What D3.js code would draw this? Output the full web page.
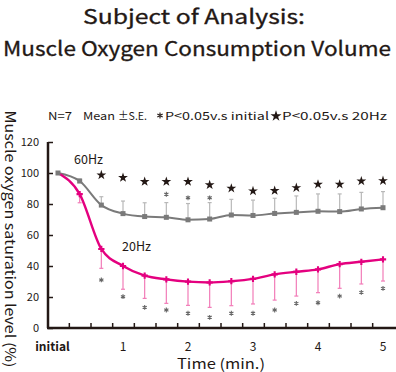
<!DOCTYPE html>
<html>
<head>
<meta charset="utf-8">
<script src="https://cdn.jsdelivr.net/npm/d3@7"></script>
<style>
  body { margin: 0; background: #fff; }
  svg { display: block; font-family: "Noto Sans CJK JP", "Noto Sans", sans-serif; }
</style>
</head>
<body>
<script>
// time points every 20 s, in minutes
const times = d3.range(16).map(i => i / 3);
const xTickLabels = ["initial", "1", "2", "3", "4", "5"];
const xTickValues = [0, 1, 2, 3, 4, 5];
const yTicks = [0, 20, 40, 60, 80, 100, 120];

// 60Hz: mean and upper S.E.
const hz60Mean = [100, 94.8, 79.3, 73.8, 71.9, 71.4, 69.8, 70.3, 72.9, 72.6, 73.9, 74.6, 75.3, 75.1, 76.8, 77.6];
const hz60Se   = [0, 1.4, 5.4, 8.1, 8.9, 9.5, 10.5, 10.6, 10.1, 9.9, 9.8, 10.6, 11.2, 11.4, 10.7, 10.4];
// 20Hz: mean and lower S.E.
const hz20Mean = [100, 86.4, 51.0, 40.0, 33.8, 31.4, 29.9, 29.4, 30.2, 31.7, 34.6, 36.3, 37.8, 41.2, 42.7, 44.3];
const hz20Se   = [0, 5.6, 12.5, 15.0, 14.7, 15.5, 15.3, 16.1, 15.8, 16.2, 16.6, 15.7, 15.0, 15.6, 14.3, 14.0];

// significance marks (level in % where the mark sits)
const star60Idx   = [2, 3, 4, 5, 6, 7, 8, 9, 10, 11, 12, 13, 14, 15];
const star60Level = [98.7, 97, 94.4, 94.4, 94.4, 92.3, 90.1, 88.4, 88.6, 90.5, 92.7, 92.7, 94.8, 95];
const ast60Idx    = [5, 6, 7];
const ast60Level  = [86.3, 84, 84];
const ast20Idx    = [2, 3, 4, 5, 6, 7, 8, 9, 10, 11, 12, 13, 14, 15];
const ast20Level  = [31, 20.2, 13.3, 11.6, 9.5, 6.9, 9.5, 9.5, 11.6, 15.9, 16.3, 20.6, 23, 25.6];

const width = 396, height = 372;
const ink = "#231815";
const pink = "#e4007f", pinkLight = "#f27cb8";
const grey = "#7a7a7a", greyLight = "#b8b8b8";

const svg = d3.select("body").append("svg")
    .attr("width", width).attr("height", height);

const x = d3.scaleLinear().domain([0, 5]).range([58, 383]);
const y = d3.scaleLinear().domain([0, 120]).range([328, 142]);

const star = d3.symbol(d3.symbolStar, 30);
const asterisk = d3.symbol(d3.symbolAsterisk, 16);

// titles
svg.append("text").attr("x", 194).attr("y", 24)
    .attr("text-anchor", "middle").attr("font-size", 20).attr("font-weight", 400)
    .attr("fill", ink).attr("stroke", ink).attr("stroke-width", 0.3)
    .attr("textLength", 222).attr("lengthAdjust", "spacingAndGlyphs")
    .text("Subject of Analysis:");
svg.append("text").attr("x", 197).attr("y", 56)
    .attr("text-anchor", "middle").attr("font-size", 20).attr("font-weight", 400)
    .attr("fill", ink).attr("stroke", ink).attr("stroke-width", 0.3)
    .attr("textLength", 388).attr("lengthAdjust", "spacingAndGlyphs")
    .text("Muscle Oxygen Consumption Volume");

// legend line
const legend = [
    { t: "N=7", x: 48, w: 24 }, { t: "Mean", x: 83, w: 32 }, { t: "±S.E.", x: 118, w: 29 },
    { t: "P<0.05v.s initial", x: 165, w: 104 }, { t: "P<0.05v.s 20Hz", x: 282, w: 105 }
];
svg.append("g").selectAll("text").data(legend).join("text")
    .attr("x", d => d.x).attr("y", 120)
    .attr("font-size", 11).attr("fill", ink)
    .attr("textLength", d => d.w).attr("lengthAdjust", "spacingAndGlyphs")
    .text(d => d.t);
svg.append("path").attr("transform", "translate(160,115.5)")
    .attr("d", d3.symbol(d3.symbolAsterisk, 26)).attr("stroke", ink).attr("stroke-width", 1.1);
svg.append("path").attr("transform", "translate(276,116)")
    .attr("d", d3.symbol(d3.symbolStar, 38)).attr("fill", ink);

// y label
svg.append("text")
    .attr("transform", "translate(5,239) rotate(90)")
    .attr("text-anchor", "middle").attr("font-size", 14).attr("fill", ink)
    .attr("textLength", 257).attr("lengthAdjust", "spacingAndGlyphs")
    .text("Muscle oxygen saturation level (%)");

// y axis
const yAxis = svg.append("g").attr("transform", "translate(48,0)")
    .call(d3.axisRight(y).tickValues(yTicks).tickSize(5).tickFormat(""));
yAxis.select(".domain").attr("d", `M0,${y(120)}V${y(0)}`).attr("stroke", ink).attr("stroke-width", 2.5);
yAxis.selectAll(".tick line").attr("stroke", ink).attr("stroke-width", 1.5);
svg.append("g").selectAll("text").data(yTicks).join("text")
    .attr("x", 39).attr("y", d => y(d) + 4)
    .attr("text-anchor", "end").attr("font-size", 11).attr("fill", ink)
    .text(d => d);

// x axis: ticks between measurement points
const xMinor = d3.range(15).map(i => (i + 0.5) / 3);
const xAxis = svg.append("g").attr("transform", `translate(0,${y(0)})`)
    .call(d3.axisTop(x).tickValues(xMinor).tickSize(5).tickFormat(""));
xAxis.select(".domain").attr("d", `M47,0H396`).attr("stroke", ink).attr("stroke-width", 2.5);
xAxis.selectAll(".tick line").attr("stroke", ink).attr("stroke-width", 1.5);
svg.append("g").selectAll("text").data(xTickValues).join("text")
    .attr("x", (d, i) => i === 0 ? 52.5 : x(d)).attr("y", 351)
    .attr("text-anchor", "middle").attr("font-size", 12)
    .attr("font-weight", (d, i) => i === 0 ? 700 : 400)
    .attr("fill", ink)
    .text((d, i) => xTickLabels[i]);
svg.append("text").attr("x", 221).attr("y", 369)
    .attr("text-anchor", "middle").attr("font-size", 14).attr("fill", ink)
    .attr("textLength", 88).attr("lengthAdjust", "spacingAndGlyphs")
    .text("Time (min.)");

// error bars
function errorBars(mean, se, dir, color) {
    const g = svg.append("g").attr("stroke", color).attr("stroke-width", 1.2);
    const idx = d3.range(1, mean.length);
    g.selectAll("line.bar").data(idx).join("line").attr("class", "bar")
        .attr("x1", i => x(times[i])).attr("x2", i => x(times[i]))
        .attr("y1", i => y(mean[i])).attr("y2", i => y(mean[i] + dir * se[i]));
    g.selectAll("line.cap").data(idx).join("line").attr("class", "cap")
        .attr("x1", i => x(times[i]) - 2).attr("x2", i => x(times[i]) + 2)
        .attr("y1", i => y(mean[i] + dir * se[i])).attr("y2", i => y(mean[i] + dir * se[i]));
}
errorBars(hz60Mean, hz60Se, 1, greyLight);
errorBars(hz20Mean, hz20Se, -1, pinkLight);

const line = d3.line().x((d, i) => x(times[i])).y(d => y(d)).curve(d3.curveMonotoneX);

svg.append("path").datum(hz60Mean).attr("d", line)
    .attr("fill", "none").attr("stroke", grey).attr("stroke-width", 2);
svg.append("path").datum(hz20Mean).attr("d", line)
    .attr("fill", "none").attr("stroke", pink).attr("stroke-width", 2.4);

svg.append("g").selectAll("rect").data(hz60Mean).join("rect")
    .attr("x", (d, i) => x(times[i]) - 2.5).attr("y", d => y(d) - 2.5)
    .attr("width", 5).attr("height", 5).attr("fill", grey);
svg.append("g").selectAll("path").data(hz20Mean.slice(1)).join("path")
    .attr("transform", (d, i) => `translate(${x(times[i + 1])},${y(d)})`)
    .attr("d", d3.symbol(d3.symbolCross, 22)).attr("fill", pink);

// line labels
svg.append("text").attr("x", 74).attr("y", 164).attr("font-size", 12.5).attr("fill", ink).text("60Hz");
svg.append("text").attr("x", 122).attr("y", 251).attr("font-size", 12.5).attr("fill", ink).text("20Hz");

// significance marks
svg.append("g").selectAll("path").data(star60Idx).join("path")
    .attr("transform", (i, k) => `translate(${x(times[i])},${y(star60Level[k])})`)
    .attr("d", star).attr("fill", ink);
svg.append("g").selectAll("path").data(ast60Idx).join("path")
    .attr("transform", (i, k) => `translate(${x(times[i])},${y(ast60Level[k])})`)
    .attr("d", asterisk).attr("stroke", "#666").attr("stroke-width", 1.1);
svg.append("g").selectAll("path").data(ast20Idx).join("path")
    .attr("transform", (i, k) => `translate(${x(times[i])},${y(ast20Level[k])})`)
    .attr("d", asterisk).attr("stroke", "#666").attr("stroke-width", 1.1);
</script>
</body>
</html>
